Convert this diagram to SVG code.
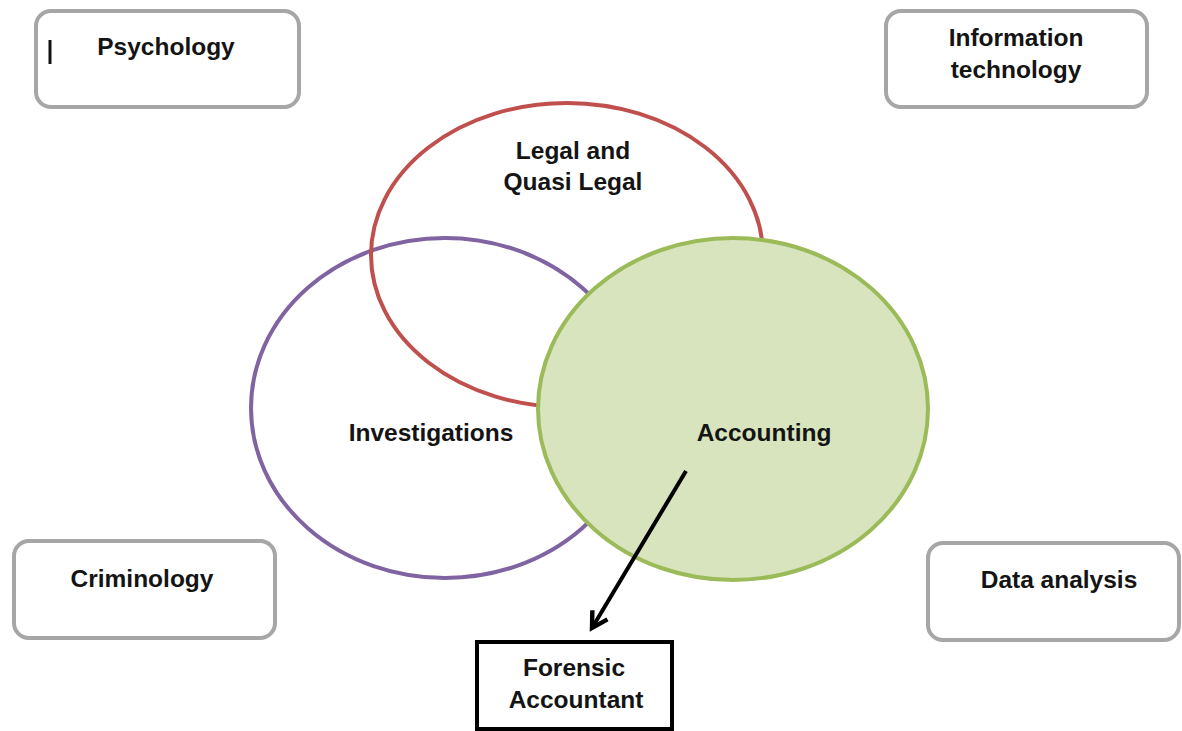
<svg xmlns="http://www.w3.org/2000/svg" width="1182" height="731" viewBox="0 0 1182 731">
<defs>
<style>
.box{fill:#fff;stroke:#a6a6a6;stroke-width:4}
.t{font-family:"Liberation Sans",Arial,sans-serif;font-weight:bold;font-size:24.5px;fill:#141414;text-anchor:middle}
.ring{fill:none;stroke-width:4}
</style>
<marker id="ah" viewBox="0 0 20 20" refX="16" refY="10" markerWidth="22" markerHeight="22" markerUnits="userSpaceOnUse" orient="auto">
<path d="M2,2 L16,10 L2,18" fill="none" stroke="#000" stroke-width="4" stroke-linejoin="miter"/>
</marker>
</defs>
<rect width="1182" height="731" fill="#fff"/>
<g id="psychology">
<rect class="box" x="36" y="11" width="263" height="96" rx="15"/>
<line x1="50" y1="40" x2="50" y2="64" stroke="#111" stroke-width="3"/>
<text class="t" x="166" y="55">Psychology</text>
</g>
<g id="information-technology">
<rect class="box" x="886" y="11" width="261" height="96" rx="15"/>
<text class="t" x="1016" y="46">Information</text>
<text class="t" x="1016" y="78">technology</text>
</g>
<g id="criminology">
<rect class="box" x="14" y="541" width="261" height="97" rx="15"/>
<text class="t" x="142" y="587">Criminology</text>
</g>
<g id="data-analysis">
<rect class="box" x="928" y="543" width="251" height="97" rx="15"/>
<text class="t" x="1059" y="588">Data analysis</text>
</g>
<g id="investigations">
<ellipse class="ring" cx="445" cy="408" rx="194" ry="170" stroke="#8064a2"/>
<text class="t" x="431" y="441">Investigations</text>
</g>
<g id="legal">
<ellipse class="ring" cx="567" cy="255" rx="196" ry="152" stroke="#c0504d"/>
<text class="t" x="573" y="159">Legal and</text>
<text class="t" x="573" y="190">Quasi Legal</text>
</g>
<g id="accounting">
<ellipse cx="733" cy="409" rx="195" ry="171" fill="#d7e4bd" stroke="#9bbb59" stroke-width="4"/>
<text class="t" x="764" y="441">Accounting</text>
</g>
<g id="forensic-accountant">
<rect x="477" y="642" width="195" height="87" fill="#fff" stroke="#000" stroke-width="4"/>
<text class="t" x="574" y="676">Forensic</text>
<text class="t" x="576" y="708">Accountant</text>
</g>
<g id="connectors">
<line x1="686" y1="471" x2="592" y2="628" stroke="#000" stroke-width="4" marker-end="url(#ah)"/>
</g>
</svg>
